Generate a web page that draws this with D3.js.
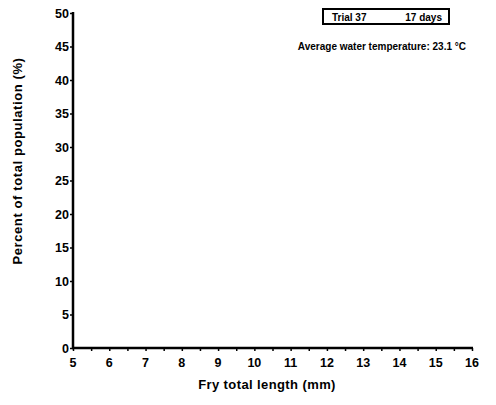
<!DOCTYPE html>
<html>
<head>
<meta charset="utf-8">
<script src="https://cdn.jsdelivr.net/npm/d3@7"></script>
<style>
  html, body { margin: 0; padding: 0; background: #fff; }
  svg text { font-family: "Liberation Sans", Arial, sans-serif; font-weight: bold; fill: #000; }
</style>
</head>
<body>
<svg id="chart" width="496" height="405"></svg>
<script>
// Length-frequency distribution of fry for one trial
const lengthsMm = [];          // fry length classes (mm)
const percentValues = [];      // percent of total population per class
const xTickValues = [5, 6, 7, 8, 9, 10, 11, 12, 13, 14, 15, 16];
const yTickValues = [0, 5, 10, 15, 20, 25, 30, 35, 40, 45, 50];
const trialLabel = ["Trial 37", "17 days"];
const temperatureNote = ["Average water temperature: 23.1 °C"];

const svg = d3.select("#chart");
const margin = { left: 73, right: 24, top: 13, bottom: 57 };
const W = 496, H = 405;

const x = d3.scaleLinear().domain([5, 16]).range([margin.left, W - margin.right]);
const y = d3.scaleLinear().domain([0, 50]).range([H - margin.bottom, margin.top]);

// bars (one per length class)
const barW = (x(6) - x(5)) * 0.8;
svg.append("g").selectAll("rect")
  .data(lengthsMm.map((d, i) => ({ len: d, pct: percentValues[i] })))
  .join("rect")
  .attr("x", d => x(d.len) - barW / 2)
  .attr("width", barW)
  .attr("y", d => y(d.pct))
  .attr("height", d => y(0) - y(d.pct))
  .attr("fill", "#000");

// x axis with half-unit minor ticks
const xAxis = svg.append("g").attr("transform", `translate(0,${y(0)})`);
xAxis.call(d3.axisBottom(x).tickValues(d3.range(5, 16.01, 0.5)).tickSize(3).tickFormat(""))
  .call(g => g.select(".domain").remove())
  .selectAll("line").attr("stroke", "#000").attr("stroke-width", 1.5);
xAxis.append("line")
  .attr("x1", x(5) - 1).attr("x2", x(16) + 1)
  .attr("y1", 0).attr("y2", 0)
  .attr("stroke", "#000").attr("stroke-width", 2.5);
xAxis.selectAll("text.tl").data(xTickValues).join("text")
  .attr("class", "tl")
  .attr("x", d => x(d)).attr("y", 19)
  .attr("text-anchor", "middle")
  .style("font-size", "12.5px")
  .text(d => d);

// y axis
const yAxis = svg.append("g").attr("transform", `translate(${x(5)},0)`);
yAxis.call(d3.axisLeft(y).tickValues(yTickValues).tickSize(3).tickFormat(""))
  .call(g => g.select(".domain").remove())
  .selectAll("line").attr("stroke", "#000").attr("stroke-width", 1.5);
yAxis.append("line")
  .attr("x1", 0).attr("x2", 0)
  .attr("y1", y(50) - 1).attr("y2", y(0) + 1)
  .attr("stroke", "#000").attr("stroke-width", 2.5);
yAxis.selectAll("text.tl").data(yTickValues).join("text")
  .attr("class", "tl")
  .attr("x", -4).attr("y", d => y(d) + 4.5)
  .attr("text-anchor", "end")
  .style("font-size", "12.5px")
  .text(d => d);

// axis titles
svg.append("text")
  .attr("x", 267).attr("y", 389)
  .attr("text-anchor", "middle")
  .style("font-size", "13px")
  .style("letter-spacing", "0.4px")
  .text("Fry total length (mm)");
svg.append("text")
  .attr("transform", `translate(22,${161}) rotate(-90)`)
  .attr("text-anchor", "middle")
  .style("font-size", "13px")
  .style("letter-spacing", "0.6px")
  .text("Percent of total population (%)");

// trial box
const box = svg.append("g");
box.append("rect")
  .attr("x", 323).attr("y", 9).attr("width", 126).attr("height", 15)
  .attr("fill", "none").attr("stroke", "#000").attr("stroke-width", 2);
box.append("text").attr("x", 332).attr("y", 20.5).style("font-size", "10px").text(trialLabel[0]);
box.append("text").attr("x", 442).attr("y", 20.5).attr("text-anchor", "end").style("font-size", "10px").text(trialLabel[1]);

svg.append("text")
  .attr("x", 466).attr("y", 50)
  .attr("text-anchor", "end")
  .style("font-size", "10px")
  .text(temperatureNote[0]);
</script>
</body>
</html>
